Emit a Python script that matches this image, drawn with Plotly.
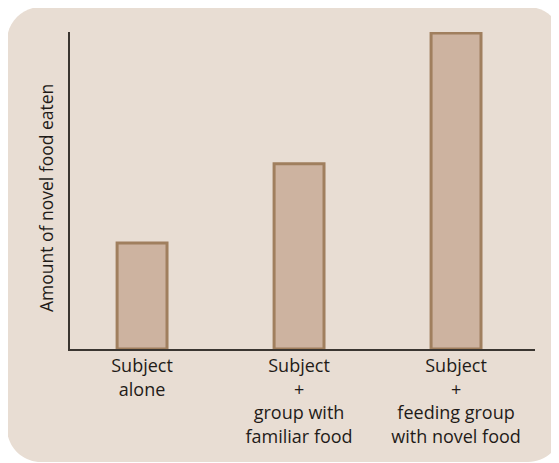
import plotly.graph_objects as go

categories = ["Subject<br>alone", "Subject<br>+<br>group with<br>familiar food", "Subject<br>+<br>feeding group<br>with novel food"]
values = [33.4, 58.4, 99.7]
y_title = "Amount of novel food eaten"

# page body has an 8px margin, so the figure is 8px smaller than the window
OFF = 8
W, H = 559 - OFF, 463 - OFF
L, R, T, B = 70 - OFF, 24, 32 - OFF, 114
pw, ph = W - L - R, H - T - B

def px(x):
    return (x - OFF - L) / pw

def py(y):
    return (H - B - (y - OFF)) / ph

# rounded rectangle background (window pixel coords -> paper coords)
x0, x1, y0, y1, r = 7, 562, 7, 462, 34
k = 0.4477
path = (
    f"M {px(x0 + r)},{py(y0)} L {px(x1 - r)},{py(y0)} "
    f"C {px(x1 - r + r*(1-k))},{py(y0)} {px(x1)},{py(y0 + r - r*(1-k))} {px(x1)},{py(y0 + r)} "
    f"L {px(x1)},{py(y1 - r)} "
    f"C {px(x1)},{py(y1 - r + r*(1-k))} {px(x1 - r + r*(1-k))},{py(y1)} {px(x1 - r)},{py(y1)} "
    f"L {px(x0 + r)},{py(y1)} "
    f"C {px(x0 + r - r*(1-k))},{py(y1)} {px(x0)},{py(y1 - r + r*(1-k))} {px(x0)},{py(y1 - r)} "
    f"L {px(x0)},{py(y0 + r)} "
    f"C {px(x0)},{py(y0 + r - r*(1-k))} {px(x0 + r - r*(1-k))},{py(y0)} {px(x0 + r)},{py(y0)} Z"
)

fig = go.Figure(go.Bar(
    x=list(range(len(categories))),
    y=values,
    width=0.318,
    marker=dict(color="#cdb3a0", line=dict(color="#a07f5e", width=3)),
))

fig.update_layout(
    width=W, height=H,
    margin=dict(l=L, r=R, t=T, b=B),
    paper_bgcolor="white",
    plot_bgcolor="rgba(0,0,0,0)",
    showlegend=False,
    font=dict(family="Open Sans", size=17, color="#1f1b18"),
    shapes=[dict(type="path", xref="paper", yref="paper", path=path,
                 fillcolor="#e8ddd3", line=dict(width=0), layer="below")],
    annotations=[dict(text=y_title, textangle=-90, xref="paper", yref="paper",
                      x=px(46), y=py(198), xanchor="center", yanchor="middle",
                      showarrow=False, font=dict(size=17.5))],
    xaxis=dict(
        range=[-0.459, 2.503],
        tickmode="array",
        tickvals=list(range(len(categories))),
        ticktext=categories,
        showline=True, linecolor="#3a3530", linewidth=1.5,
        showgrid=False, zeroline=False, ticks="",
        tickfont=dict(size=18),
    ),
    yaxis=dict(
        range=[0, 100],
        showline=True, linecolor="#3a3530", linewidth=1.5,
        showgrid=False, zeroline=False, ticks="", showticklabels=False,
    ),
)

fig.write_html("out.html")
